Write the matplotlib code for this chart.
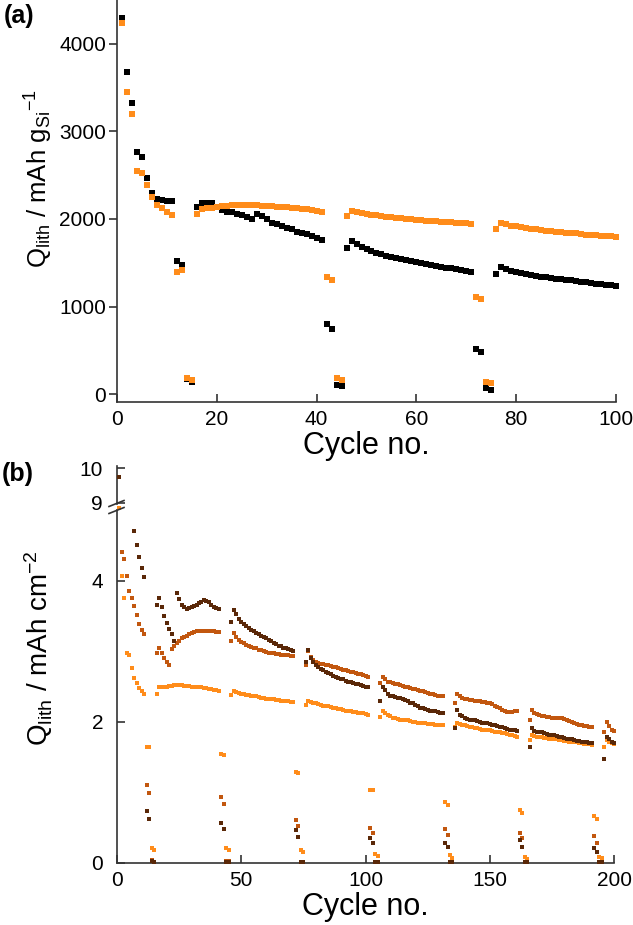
import numpy as np
import matplotlib
matplotlib.use("Agg")
import matplotlib.pyplot as plt
from matplotlib.lines import Line2D

plt.rcParams['font.family'] = ['Liberation Sans', 'DejaVu Sans']
plt.rcParams['mathtext.fontset'] = 'custom'
plt.rcParams['mathtext.rm'] = 'Liberation Sans'
plt.rcParams['mathtext.it'] = 'Liberation Sans:italic'
plt.rcParams['mathtext.bf'] = 'Liberation Sans:bold'

# ---------------- Panel (a) data: cycles 1..100 ----------------
cycles_a = list(range(1, 101))
black_a = ([4300, 3680, 3326, 2767, 2710, 2470, 2299, 2226, 2215, 2205, 2203,
            1522, 1473, 170, 141,
            2138, 2177, 2184, 2184, 2138, 2100, 2081, 2074, 2062, 2043, 2024, 1994, 2062,
            2032, 1994, 1956, 1948, 1918, 1900, 1880, 1853, 1840, 1826, 1800, 1780, 1760,
            799, 738, 103, 91,
            1674, 1750, 1715, 1680, 1655, 1635, 1615, 1598, 1582, 1570, 1555, 1545, 1532,
            1520, 1508, 1495, 1485, 1475, 1465, 1455, 1445, 1435, 1425, 1415, 1405, 1396,
            510, 483, 65, 46,
            1370, 1453, 1430, 1410, 1395, 1380, 1368, 1358, 1350, 1342, 1335, 1328, 1320,
            1312, 1305, 1298, 1290, 1282, 1275, 1268, 1260, 1253, 1247, 1242, 1236])
orange_a = ([4243, 3444, 3193, 2546, 2519, 2386, 2252, 2158, 2120, 2074, 2043,
             1396, 1415, 179, 160,
             2051, 2108, 2120, 2130, 2140, 2145, 2150, 2155, 2157, 2157, 2157, 2157, 2155,
             2150, 2146, 2143, 2140, 2136, 2131, 2127, 2122, 2117, 2108, 2100, 2090, 2081,
             1332, 1301, 179, 160,
             2030, 2088, 2075, 2065, 2058, 2050, 2043, 2036, 2028, 2020, 2013, 2007, 2001,
             1995, 1990, 1985, 1980, 1976, 1972, 1968, 1964, 1960, 1957, 1954, 1951, 1948,
             1111, 1081, 141, 129,
             1891, 1956, 1940, 1925, 1915, 1905, 1895, 1888, 1880, 1874, 1868, 1862, 1856,
             1850, 1844, 1839, 1834, 1828, 1822, 1816, 1812, 1808, 1804, 1800, 1796])

# ---------------- Panel (b) data: cycles 1..200 ----------------
cycles_b = list(range(1, 201))
nan = float('nan')
orange_b = ([8.86, 4.06, 3.75, 2.98, 2.95, 2.76, 2.62, 2.55, 2.48, 2.43, 2.40,
             1.65, 1.64, 0.21, 0.19,
             2.40, 2.49, 2.49, 2.50, 2.50, 2.51, 2.51, 2.52, 2.52, 2.52, 2.52, 2.51, 2.51,
             2.51, 2.50, 2.50, 2.50, 2.49, 2.49, 2.48, 2.48, 2.47, 2.46, 2.45, 2.45, 2.44,
             1.55, 1.53, 0.21, 0.18,
             2.38, 2.44, 2.42, 2.41, 2.40, 2.39, 2.38, 2.38, 2.37, 2.36, 2.36, 2.35, 2.34,
             2.34, 2.33, 2.33, 2.32, 2.32, 2.31, 2.31, 2.30, 2.30, 2.29, 2.29, 2.28, 2.28,
             1.29, 1.27, 0.18, 0.15,
             2.24, 2.30, 2.28, 2.27, 2.26, 2.25, 2.24, 2.23, 2.22, 2.22, 2.21, 2.20, 2.19,
             2.18, 2.18, 2.17, 2.16, 2.16, 2.15, 2.14, 2.14, 2.13, 2.12, 2.12, 2.11, 2.10,
             1.04, 1.03, 0.13, 0.10,
             2.07, 2.15, 2.12, 2.10, 2.08, 2.06, 2.05, 2.04, 2.03, 2.03, 2.02, 2.02, 2.01,
             2.00, 2.00, 1.99, 1.99, 1.98, 1.98, 1.97, 1.97, 1.97, 1.96, 1.96, 1.96, 1.96,
             0.87, 0.82, 0.11, 0.07,
             1.93, 1.99, 1.97, 1.96, 1.95, 1.94, 1.93, 1.92, 1.91, 1.91, 1.90, 1.89, 1.89,
             1.88, 1.88, 1.87, 1.86, 1.86, 1.85, 1.84, 1.84, 1.83, 1.82, 1.81, 1.80, 1.79,
             0.75, 0.71, 0.08, 0.06,
             1.74, 1.82, 1.80, 1.79, 1.78, 1.78, 1.77, 1.77, 1.76, 1.76, 1.75, 1.75, 1.74,
             1.74, 1.73, 1.73, 1.72, 1.72, 1.71, 1.71, 1.70, 1.70, 1.69, 1.68, 1.68, 1.67,
             0.67, 0.62, 0.08, 0.07,
             1.65, 1.74, 1.72, 1.70, 1.68])
medium_b = ([9.75, 4.40, 4.30, 4.06, 3.85, 3.75, 3.64, 3.51, 3.39, 3.30, 3.24,
             1.10, 0.99, 0.04, 0.02,
             2.98, 3.05, 2.97, 2.90, 2.84, 2.81, 3.03, 3.08, 3.12, 3.15, 3.18, 3.20, 3.22,
             3.24, 3.26, 3.27, 3.28, 3.29, 3.29, 3.29, 3.29, 3.28, 3.28, 3.28, 3.27, 3.27,
             0.93, 0.84, 0.03, 0.03,
             3.14, 3.26, 3.20, 3.16, 3.13, 3.11, 3.09, 3.07, 3.06, 3.05, 3.04, 3.02, 3.01,
             3.00, 2.99, 2.98, 2.97, 2.97, 2.96, 2.96, 2.95, 2.95, 2.94, 2.94, 2.93, 2.93,
             0.61, 0.52, 0.02, 0.02,
             2.81, 3.00, 2.92, 2.87, 2.84, 2.83, 2.82, 2.82, 2.81, 2.80, 2.79, 2.78, 2.77,
             2.76, 2.75, 2.74, 2.73, 2.72, 2.71, 2.70, 2.69, 2.68, 2.67, 2.66, 2.65, 2.64,
             0.49, 0.42, 0.02, 0.02,
             2.55, 2.63, 2.60, 2.57, 2.56, 2.55, 2.54, 2.53, 2.52, 2.51, 2.50, 2.49, 2.48,
             2.47, 2.46, 2.45, 2.44, 2.43, 2.42, 2.41, 2.40, 2.39, 2.38, 2.37, 2.37, 2.36,
             0.48, 0.40, 0.02, 0.02,
             2.27, 2.40, 2.36, 2.34, 2.33, 2.32, 2.31, 2.31, 2.30, 2.30, 2.29, 2.28, 2.28,
             2.27, 2.27, 2.25, 2.23, 2.21, 2.19, 2.17, 2.15, 2.14, 2.14, 2.14, 2.15, 2.15,
             0.43, 0.36, 0.02, 0.02,
             2.03, 2.17, 2.13, 2.11, 2.09, 2.08, 2.08, 2.07, 2.07, 2.06, 2.06, 2.05, 2.05,
             2.05, 2.04, 2.03, 2.01, 2.00, 1.98, 1.97, 1.96, 1.95, 1.94, 1.94, 1.93, 1.93,
             0.38, 0.29, 0.02, 0.02,
             1.85, 2.00, 1.94, 1.89, 1.87])
dark_b = ([9.75, nan, nan, nan, nan, nan, 4.70, 4.50, 4.33, 4.18, 4.05,
           0.73, 0.62, 0.03, 0.02,
           3.65, 3.75, 3.62, 3.50, 3.40, 3.32, 3.24, 3.15, 3.83, 3.74, 3.66, 3.62, 3.60,
           3.61, 3.62, 3.64, 3.66, 3.68, 3.70, 3.72, 3.71, 3.69, 3.66, 3.63, 3.61, 3.60,
           0.57, 0.48, 0.02, 0.02,
           3.42, 3.58, 3.52, 3.46, 3.42, 3.39, 3.36, 3.33, 3.30, 3.28, 3.26, 3.24, 3.22,
           3.20, 3.18, 3.16, 3.14, 3.12, 3.10, 3.08, 3.07, 3.05, 3.04, 3.03, 3.01, 3.00,
           0.47, 0.37, 0.02, 0.02,
           2.85, 3.02, 2.90, 2.84, 2.80, 2.77, 2.75, 2.73, 2.71, 2.69, 2.67, 2.65, 2.64,
           2.62, 2.61, 2.60, 2.58, 2.57, 2.56, 2.55, 2.54, 2.53, 2.52, 2.51, 2.50, 2.49,
           0.36, 0.29, 0.02, 0.02,
           2.29, 2.50, 2.45, 2.40, 2.37, 2.36, 2.35, 2.34, 2.34, 2.33, 2.31, 2.29, 2.27,
           2.26, 2.24, 2.22, 2.20, 2.19, 2.18, 2.17, 2.16, 2.15, 2.15, 2.14, 2.13, 2.13,
           0.29, 0.22, 0.02, 0.02,
           1.91, 2.17, 2.10, 2.08, 2.06, 2.04, 2.03, 2.03, 2.02, 2.01, 2.00, 1.99, 1.98,
           1.98, 1.97, 1.96, 1.95, 1.94, 1.93, 1.92, 1.91, 1.90, 1.89, 1.89, 1.88, 1.87,
           0.32, 0.23, 0.02, 0.02,
           1.65, 1.91, 1.87, 1.86, 1.85, 1.86, 1.84, 1.83, 1.82, 1.82, 1.81, 1.80, 1.79,
           1.78, 1.77, 1.76, 1.76, 1.75, 1.74, 1.73, 1.73, 1.72, 1.72, 1.71, 1.70, 1.70,
           0.21, 0.16, 0.02, 0.02,
           1.48, 1.78, 1.76, 1.72, 1.70])

xticks_a = [0, 20, 40, 60, 80, 100]
yticks_a = [0, 1000, 2000, 3000, 4000]
xticks_b = [0, 50, 100, 150, 200]
yticks_b_low = [0, 2, 4]
yticks_b_up = [9, 10]

C_ORANGE = '#ff8c1a'
C_MED = '#c2570f'
C_DARK = '#5a2808'
C_BLACK = '#000000'
SPINE = '#333333'

W, H = 633, 925
fig = plt.figure(figsize=(W / 100, H / 100), dpi=100)

def fr(x0, ytop, x1, ybot):
    return [x0 / W, 1 - ybot / H, (x1 - x0) / W, (ybot - ytop) / H]

# ---------------- Panel (a) ----------------
axA = fig.add_axes(fr(117, 0, 616, 402))
axA.scatter(cycles_a, black_a, marker='s', s=16, c=C_BLACK, linewidths=0, clip_on=False, zorder=3)
axA.scatter(cycles_a, orange_a, marker='s', s=16, c=C_ORANGE, linewidths=0, clip_on=False, zorder=3)
axA.set_xlim(0, 100)
axA.set_ylim(-90, 4500)
axA.set_xticks(xticks_a)
axA.set_yticks(yticks_a)
for s in ['top', 'right']:
    axA.spines[s].set_visible(False)
for s in ['left', 'bottom']:
    axA.spines[s].set_color(SPINE)
    axA.spines[s].set_linewidth(1.2)
axA.tick_params(axis='y', direction='out', length=6, width=1.2, color=SPINE, labelsize=15, pad=2)
axA.tick_params(axis='x', direction='in', length=6, width=1.2, color=SPINE, labelsize=15, pad=6)
axA.set_xlabel('Cycle no.', fontsize=22, labelpad=1)
axA.set_ylabel(r'Q$_{\mathrm{lith}}$ / mAh g$_{\mathrm{Si}}$$^{-1}$', fontsize=18.5)
axA.yaxis.set_label_coords(-0.125, 0.555)

# ---------------- Panel (b) ----------------
axB = fig.add_axes(fr(117, 510, 614, 863))
axT = fig.add_axes(fr(117, 466, 614, 504))
cb = np.array(cycles_b)
for ax, lo, hi in ((axB, -1, 6), (axT, 8, 11)):
    for vals, col in ((orange_b, C_ORANGE), (medium_b, C_MED), (dark_b, C_DARK)):
        v = np.array(vals)
        m = (v >= lo) & (v < hi)
        ax.scatter(cb[m], v[m], marker='s', s=9, c=col, linewidths=0, clip_on=False, zorder=3)
    ax.set_xlim(0, 200)
    for s in ['top', 'right']:
        ax.spines[s].set_visible(False)
    ax.spines['left'].set_color(SPINE)
    ax.spines['left'].set_linewidth(1.2)
    ax.spines['bottom'].set_color(SPINE)
    ax.spines['bottom'].set_linewidth(1.2)

axB.set_ylim(0, 5.0)
axT.set_ylim(8.97, 10.06)
axB.set_xticks(xticks_b)
axB.set_yticks(yticks_b_low)
axT.set_yticks(yticks_b_up)
axT.set_xticks([])
axT.spines['bottom'].set_visible(False)
axB.tick_params(axis='y', direction='in', length=6, width=1.2, color=SPINE, labelsize=15, pad=10)
axB.tick_params(axis='x', direction='in', length=6, width=1.2, color=SPINE, labelsize=15, pad=6)
axT.tick_params(axis='y', direction='in', length=6, width=1.2, color=SPINE, labelsize=15, pad=10)
axB.set_xlabel('Cycle no.', fontsize=22, labelpad=1)
axB.set_ylabel(r'Q$_{\mathrm{lith}}$ / mAh cm$^{-2}$', fontsize=20)
axB.yaxis.set_label_coords(-0.125, 0.61)

# break marks
for yb in (503.5, 510.5):
    fig.add_artist(Line2D([109 / W, 124 / W], [1 - (yb + 3) / H, 1 - (yb - 3) / H],
                          color=SPINE, linewidth=1.2))

fig.text(4 / W, 1 - 16 / H, '(a)', fontsize=18, fontweight='bold', va='center', ha='left')
fig.text(2 / W, 1 - 474 / H, '(b)', fontsize=18, fontweight='bold', va='center', ha='left')

fig.savefig('out.png', dpi=100)
